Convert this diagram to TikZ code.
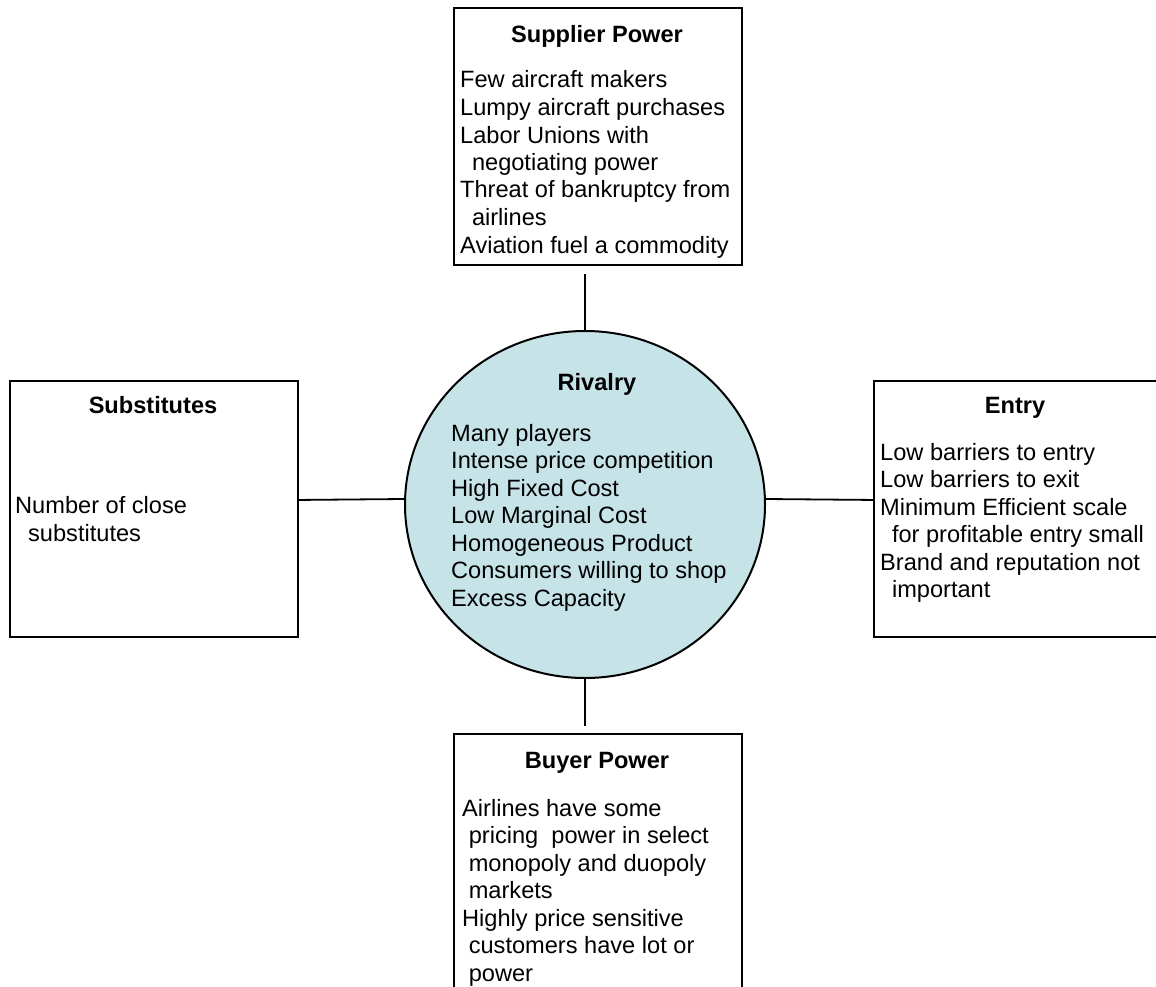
\documentclass[tikz,border=0pt]{standalone}
\usepackage{fontspec}
\setmainfont{Liberation Sans}
\usetikzlibrary{shapes.geometric,calc}
\definecolor{rivfill}{RGB}{198,228,232}
\begin{document}
\begin{tikzpicture}[x=1pt,y=-1pt,
  box/.style={draw=black,line width=1.9pt,fill=white,anchor=north west,inner sep=0pt},
  conn/.style={draw=black,line width=1.8pt},
  txt/.style={anchor=base west,inner sep=0pt,align=left,font=\fontsize{23.6}{27.5}\selectfont},
  ttl/.style={anchor=base,inner sep=0pt,font=\bfseries\fontsize{23.6}{27.5}\selectfont}]
\clip (0,0) rectangle (1156,987);
\fill[white] (0,0) rectangle (1156,987);
% boxes
\node[box,minimum width=288pt,minimum height=257pt] (sup) at (453,7) {};
\node[box,minimum width=288pt,minimum height=256pt] (sub) at (9,380) {};
\node[box,minimum width=288pt,minimum height=256pt] (ent) at (873,380) {};
\node[box,minimum width=288pt,minimum height=290pt] (buy) at (453,733) {};
\node[ellipse,draw=black,line width=2pt,fill=rivfill,inner sep=0pt,
      minimum width=360pt,minimum height=347pt] (riv) at (585,504.5) {};
% connectors
\draw[conn] ($(riv.north |- sup.south)+(0,8)$) -- (riv.north);
\draw[conn] (riv.south) -- ($(riv.south |- buy.north)+(0,-7)$);
\draw[conn] ([yshift=9pt]sub.east) -- ([yshift=5.5pt]riv.west);
\draw[conn] ([yshift=5.5pt]riv.east) -- ([yshift=9pt]ent.west);
% titles
\node[ttl] (supT) at (597,43) {Supplier Power};
\node[ttl] (rivT) at (597,390) {Rivalry};
\node[ttl] (subT) at (153,413) {Substitutes};
\node[ttl] (entT) at (1015,413) {Entry};
\node[ttl] (buyT) at (597,768) {Buyer Power};
% bodies (base anchor = baseline of last line)
\node[txt] (supB) at (460,253) {Few aircraft makers\\Lumpy aircraft purchases\\Labor Unions with\\\hspace*{0.5em}negotiating power\\Threat of bankruptcy from\\\hspace*{0.5em}airlines\\Aviation fuel a commodity};
\node[txt] (rivB) at (451,606) {Many players\\Intense price competition\\High Fixed Cost\\Low Marginal Cost\\Homogeneous Product\\Consumers willing to shop\\Excess Capacity};
\node[txt] (subB) at (15,541) {Number of close\\\hspace*{0.55em}substitutes};
\node[txt] (entB) at (880,597.5) {Low barriers to entry\\Low barriers to exit\\Minimum Efficient scale\\\hspace*{0.5em}for profitable entry small\\Brand and reputation not\\\hspace*{0.5em}important};
\node[txt] (buyB) at (462,981) {Airlines have some\\\hspace*{0.28em}pricing\ \ power in select\\\hspace*{0.28em}monopoly and duopoly\\\hspace*{0.28em}markets\\Highly price sensitive\\\hspace*{0.28em}customers have lot or\\\hspace*{0.28em}power};
\end{tikzpicture}
\end{document}
